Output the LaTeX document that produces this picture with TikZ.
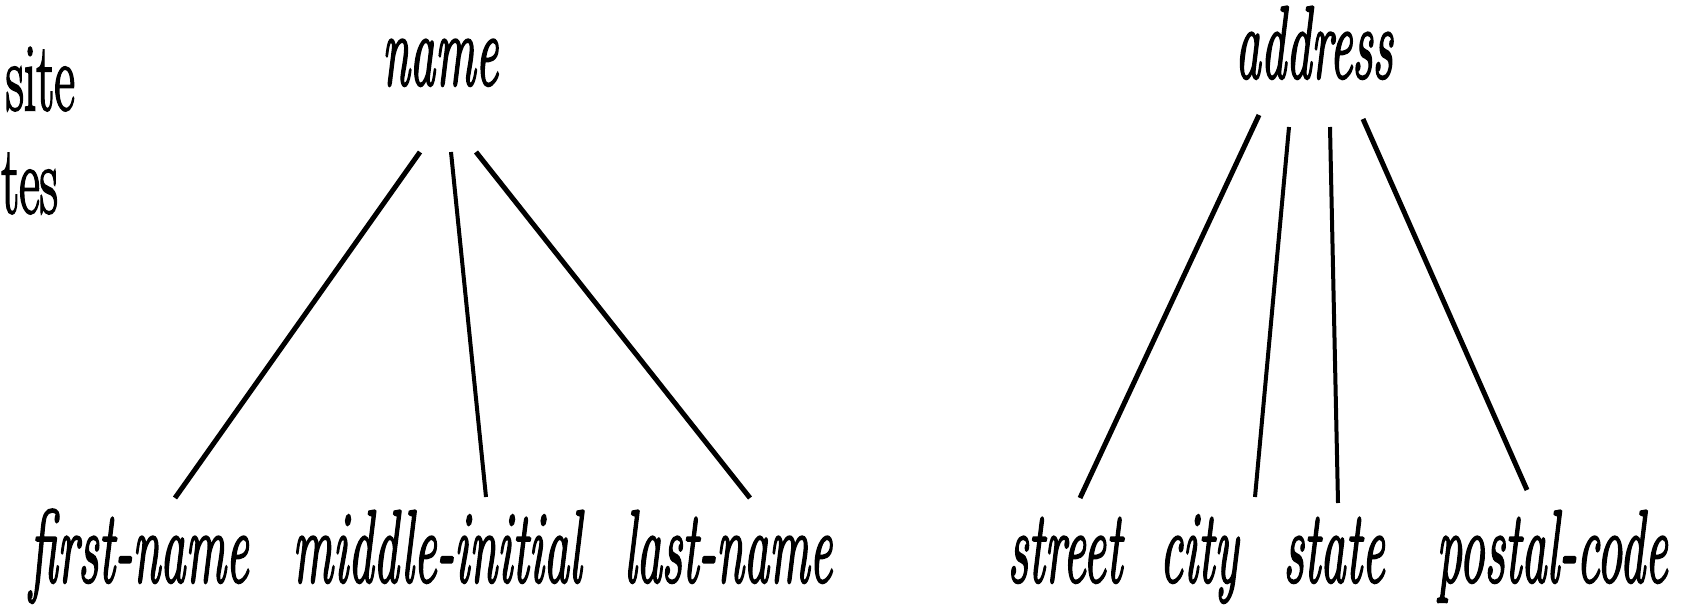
\documentclass[tikz,border=0pt]{standalone}
\usepackage{fontspec}
\usetikzlibrary{calc}
% Latin Modern with a little extra weight for the large lettering
\newfontfamily\heavylm{Latin Modern Roman}[FakeBold=2.5]
% condensed lettering for the attribute names
\newcommand\narrowit[1]{\scalebox{0.49}[1]{\itshape #1}}
\newcommand\narrowrm[1]{\scalebox{0.52}[1]{#1}}
\begin{document}
\begin{tikzpicture}[x=1pt,y=-1pt,
  attr/.style={inner sep=0pt,anchor=base,font=\heavylm\fontsize{103}{103}\selectfont},
  side/.style={inner sep=0pt,anchor=base east,font=\heavylm\fontsize{97}{97}\selectfont},
  branch/.style={line width=5pt},
  stem/.style={line width=4pt}]
\useasboundingbox (0,0) rectangle (1691,608);

% caption fragments at the left margin
\node[side] (capA) at (75,110) {\narrowrm{site}};
\node[side] (capB) at (58,213) {\narrowrm{tes}};

% composite attribute: name
\node[attr] (name)   at (440,85)  {\narrowit{name}};
\node[attr] (first)  at (139,582) {\narrowit{first-name}};
\node[attr] (middle) at (437,582) {\narrowit{middle-initial}};
\node[attr] (last)   at (728,582) {\narrowit{last-name}};

\draw[branch] ($(name.base)+(-20,67)$) -- ($(first.base)+(36,-84)$);
\draw[stem]   ($(name.base)+(11,67)$)  -- ($(middle.base)+(49,-85)$);
\draw[branch] ($(name.base)+(36,67)$)  -- ($(last.base)+(22,-84)$);

% composite attribute: address
\node[attr] (address) at (1314,78)  {\narrowit{address}};
\node[attr] (street)  at (1065,582) {\narrowit{street}};
\node[attr] (city)    at (1199,582) {\narrowit{city}};
\node[attr] (state)   at (1334,582) {\narrowit{state}};
\node[attr] (postal)  at (1552,582) {\narrowit{postal-code}};

\draw[branch] ($(address.base)+(-55,37)$) -- ($(street.base)+(15,-84)$);
\draw[stem]   ($(address.base)+(-25,49)$) -- ($(city.base)+(56,-85)$);
\draw[stem]   ($(address.base)+(16,49)$)  -- ($(state.base)+(4,-79)$);
\draw[branch] ($(address.base)+(49,41)$)  -- ($(postal.base)+(-25,-92)$);
\end{tikzpicture}
\end{document}
